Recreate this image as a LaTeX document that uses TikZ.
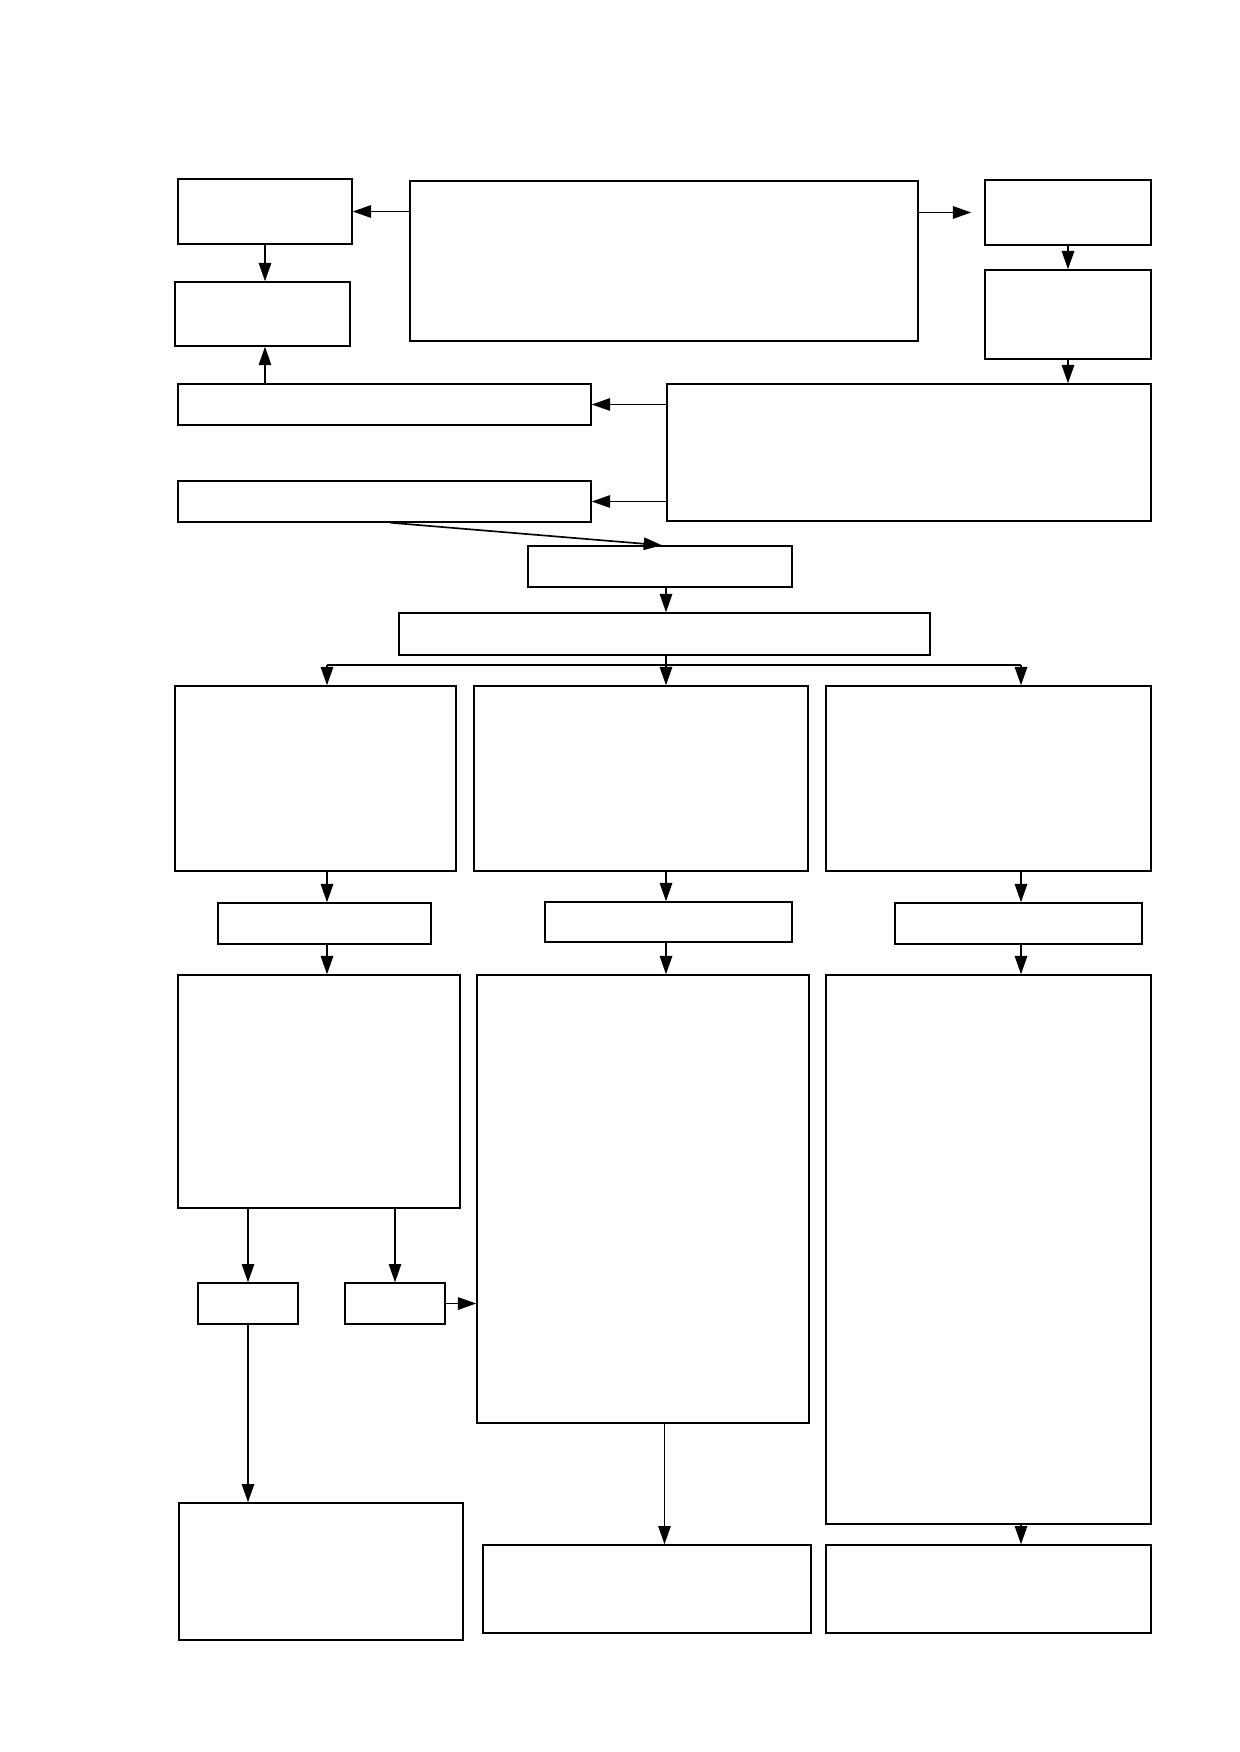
\documentclass[tikz,border=0pt]{standalone}
\usetikzlibrary{arrows.meta}
\newlength\pxu
\setlength\pxu{0.1695mm}
\tikzset{
  blk/.style 2 args={draw, line width=0.7pt, inner sep=0pt,
    minimum width=#1*\pxu, minimum height=#2*\pxu},
  arr/.style={line width=0.8pt, -{Triangle[length=3.1mm,width=2.1mm]}},
  lin/.style={line width=0.8pt}
}
\begin{document}
\begin{tikzpicture}[x=\pxu,y=-\pxu]
\useasboundingbox (0,0) rectangle (1239,1752);

\node[blk={174}{65}] (a) at (265,211.5) {};
\node[blk={175}{64}] (b) at (262.5,314) {};
\node[blk={508}{160}] (c) at (664,261) {};
\node[blk={166}{65}] (d) at (1068,212.5) {};
\node[blk={166}{89}] (e) at (1068,314.5) {};
\node[blk={413}{41}] (f) at (384.5,404.5) {};
\node[blk={484}{137}] (g) at (909,452.5) {};
\node[blk={413}{41}] (h) at (384.5,501.5) {};
\node[blk={264}{41}] (i) at (660,566.5) {};
\node[blk={531}{42}] (j) at (664.5,634) {};

\node[blk={281}{185}] (k1) at (315.5,778.5) {};
\node[blk={334}{185}] (k2) at (641,778.5) {};
\node[blk={325}{185}] (k3) at (988.5,778.5) {};
\node[blk={213}{41}] (l1) at (324.5,923.5) {};
\node[blk={247}{40}] (l2) at (668.5,922) {};
\node[blk={247}{41}] (l3) at (1018.5,923.5) {};
\node[blk={282}{233}] (m1) at (319,1091.5) {};
\node[blk={332}{448}] (m2) at (643,1199) {};
\node[blk={325}{549}] (m3) at (988.5,1249.5) {};
\node[blk={100}{41}] (n1) at (248,1303.5) {};
\node[blk={100}{41}] (n2) at (395,1303.5) {};
\node[blk={284}{137}] (o1) at (321,1571.5) {};
\node[blk={328}{88}] (o2) at (647,1589) {};
\node[blk={325}{88}] (o3) at (988.5,1589) {};

\coordinate (fork) at ([yshift=-9*\pxu]j.south);
\coordinate (col1) at (327,0);
\coordinate (col2) at (666,0);
\coordinate (col3) at (1021,0);

\draw[arr] (c.west |- a) -- (a.east);
\draw[arr,shorten >=13*\pxu] (c.east |- d) -- (d.west);
\draw[arr] (a.south) -- (a.south |- b.north);
\draw[arr] (f.north -| a) -- (b.south -| a);
\draw[arr] (d.south) -- (e.north);
\draw[arr] (e.south) -- (e.south |- g.north);
\draw[arr] (g.west |- f) -- (f.east);
\draw[arr] (g.west |- h) -- (h.east);
\draw[arr] ([xshift=6*\pxu]h.south) -- ([xshift=2*\pxu]i.north);
\draw[arr] (i.south -| col2) -- (j.north -| col2);

\draw[arr] (j.south -| col2) -- (k2.north -| col2);
\draw[lin] (fork -| col1) -- (fork -| col3);
\draw[arr] (fork -| col1) -- (k1.north -| col1);
\draw[arr] (fork -| col3) -- (k3.north -| col3);

\draw[arr] (k1.south -| col1) -- (l1.north -| col1);
\draw[arr] (k2.south -| col2) -- (l2.north -| col2);
\draw[arr] (k3.south -| col3) -- (l3.north -| col3);
\draw[arr] (l1.south -| col1) -- (m1.north -| col1);
\draw[arr] (l2.south -| col2) -- (m2.north -| col2);
\draw[arr] (l3.south -| col3) -- (m3.north -| col3);

\draw[arr] (m1.south -| n1) -- (n1.north);
\draw[arr] (m1.south -| n2) -- (n2.north);
\draw[arr] (n2.east) -- (n2.east -| m2.west);
\draw[arr] (n1.south) -- (n1.south |- o1.north);
\draw[arr] (m2.south -| j) -- (o2.north -| j);
\draw[arr] (m3.south -| col3) -- (o3.north -| col3);
\end{tikzpicture}
\end{document}
